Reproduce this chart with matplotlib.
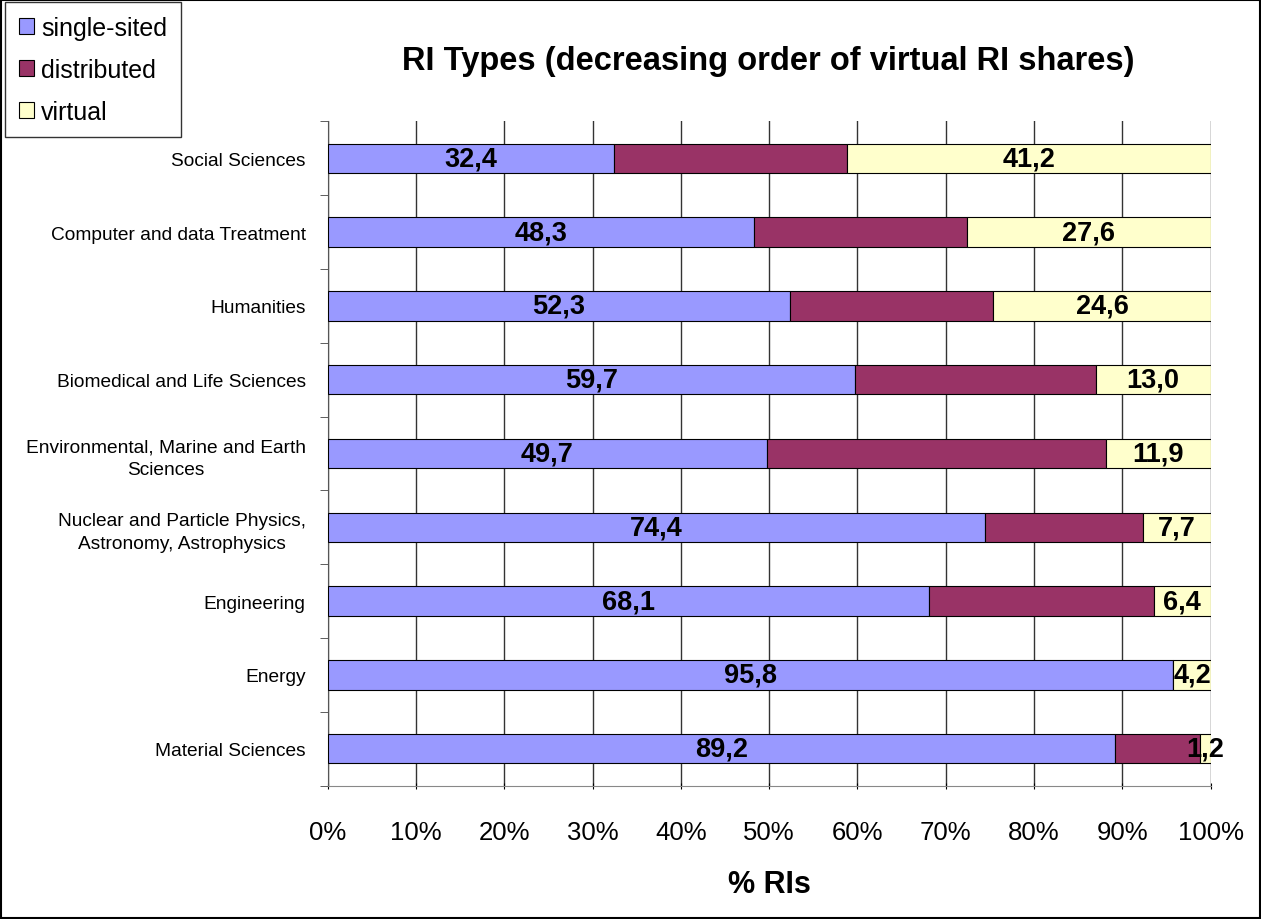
import matplotlib.pyplot as plt
from matplotlib.ticker import FixedLocator
import numpy as np

plt.rcParams['font.family'] = ['Liberation Sans', 'DejaVu Sans']

# categories from top to bottom
categories = [
    "Social Sciences",
    "Computer and data Treatment",
    "Humanities",
    "Biomedical and Life Sciences",
    "Environmental, Marine and Earth\nSciences",
    "Nuclear and Particle Physics,\nAstronomy, Astrophysics",
    "Engineering",
    "Energy",
    "Material Sciences",
]
single_sited = [32.4, 48.3, 52.3, 59.7, 49.7, 74.4, 68.1, 95.8, 89.2]
distributed = [26.4, 24.1, 23.1, 27.3, 38.4, 17.9, 25.5, 0.0, 9.6]
virtual = [41.2, 27.6, 24.6, 13.0, 11.9, 7.7, 6.4, 4.2, 1.2]

c_single = "#9999FF"
c_dist = "#993366"
c_virt = "#FFFFCC"

fig = plt.figure(figsize=(12.61, 9.2), dpi=100)
ax = fig.add_axes([0.260, 0.145, 0.700, 0.722])

n = len(categories)
y = np.arange(n)[::-1]
h = 0.4
s = np.array(single_sited)
d = np.array(distributed)
v = np.array(virtual)

b1 = ax.barh(y, s, height=h, color=c_single, edgecolor="black", linewidth=0.8, zorder=3, label="single-sited")
b2 = ax.barh(y, d, left=s, height=h, color=c_dist, edgecolor="black", linewidth=0.8, zorder=3, label="distributed")
b3 = ax.barh(y, v, left=s + d, height=h, color=c_virt, edgecolor="black", linewidth=0.8, zorder=3, label="virtual")

lab_font = dict(fontsize=19.5, fontweight="bold", family=["Liberation Sans Narrow", "Liberation Sans", "DejaVu Sans"],
                ha="center", va="center", zorder=5)
for yi, si, di, vi in zip(y, s, d, v):
    ax.text(si / 2, yi, f"{si:.1f}".replace(".", ","), **lab_font)
    ax.text(si + di + vi / 2, yi, f"{vi:.1f}".replace(".", ","), **lab_font)

ax.set_xlim(0, 100)
ax.set_ylim(-0.5, n - 0.5)
ax.set_xticks(np.arange(0, 101, 10))
ax.set_xticklabels([f"{t}%" for t in range(0, 101, 10)], fontsize=18.5)
ax.tick_params(axis="x", length=5, direction="inout", pad=22, colors="black")
ax.set_yticks(y)
ax.set_yticklabels(categories, fontsize=13.8, multialignment="center", linespacing=1.45)
ax.tick_params(axis="y", which="major", length=0, pad=16)
ax.yaxis.set_minor_locator(FixedLocator(np.arange(-0.5, n, 1.0)))
ax.tick_params(axis="y", which="minor", length=6, direction="out", color="#444444")

ax.grid(axis="x", color="#333333", linewidth=1, zorder=0)
for side in ["top", "right"]:
    ax.spines[side].set_visible(False)
ax.spines["left"].set_color("#555555")
ax.spines["bottom"].set_color("#888888")

ax.set_xlabel("% RIs", fontsize=22, fontweight="bold", labelpad=18)
fig.text(0.609, 0.933, "RI Types (decreasing order of virtual RI shares)", fontsize=23.5,
         fontweight="bold", ha="center", va="center")

leg = fig.legend(handles=[b1, b2, b3], loc="upper left", bbox_to_anchor=(0.004, 0.997),
                 fontsize=18, frameon=True, fancybox=False, edgecolor="black",
                 handlelength=0.6, handleheight=0.6, handletextpad=0.3,
                 borderpad=0.55, labelspacing=0.72, borderaxespad=0)
leg.get_frame().set_linewidth(1)

# outer border around the whole figure
fig.patches.append(plt.Rectangle((0.001, 0.001), 0.998, 0.998, transform=fig.transFigure,
                                 fill=False, edgecolor="black", linewidth=1.5))

fig.savefig("out.png", dpi=100)
